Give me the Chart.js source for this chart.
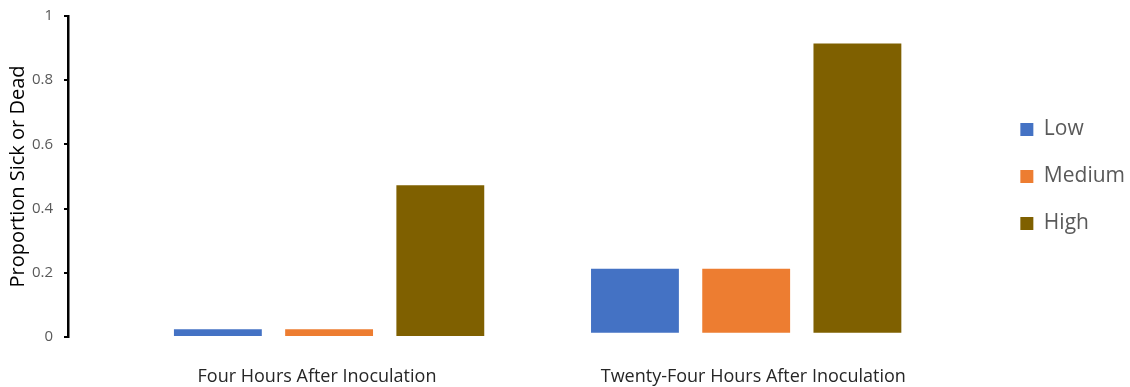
<!DOCTYPE html>
<html>
<head>
<meta charset="utf-8">
<script src="https://cdn.jsdelivr.net/npm/chart.js@4/dist/chart.umd.min.js"></script>
<style>
  html, body { margin: 0; padding: 0; background: #fff; }
  #wrap { width: 1130px; height: 387px; }
</style>
</head>
<body>
<div id="wrap"><canvas id="c" width="1130" height="387"></canvas></div>
<script>
// Groups along the x axis and the dose series
const categories = ["Four Hours After Inoculation", "Twenty-Four Hours After Inoculation"];
const categoryLabelAt = [0.971, 2.017];
const seriesNames = ["Low", "Medium", "High"];
const lowValues = [0.024, 0.213];
const mediumValues = [0.024, 0.213];
const highValues = [0.473, 0.914];
// bars of each group rise from this level
const groupBase = [0, 0.013];
const yTickLabels = ["0", "0.2", "0.4", "0.6", "0.8", "1"];
const seriesColors = ["#4472C4", "#ED7D31", "#7F6000"];

const FONT = "'Open Sans', 'DejaVu Sans', sans-serif";

function toPoints(values) {
  return values.map((v, i) => ({ x: i + 1, y: [groupBase[i], v] }));
}

const datasets = [lowValues, mediumValues, highValues].map((vals, k) => ({
  label: seriesNames[k],
  data: toPoints(vals),
  backgroundColor: seriesColors[k],
  borderWidth: 0,
  categoryPercentage: 0.8,
  barPercentage: 0.79
}));

new Chart(document.getElementById('c'), {
  type: 'bar',
  data: { datasets },
  options: {
    responsive: false,
    devicePixelRatio: 1,
    animation: false,
    layout: { padding: { top: 16, bottom: 1, left: 0, right: -5 } },
    plugins: {
      tooltip: { enabled: false },
      legend: {
        position: 'right',
        fullSize: false,
        labels: {
          boxWidth: 13,
          boxHeight: 13,
          padding: 26,
          color: '#595959',
          font: { family: FONT, size: 21 }
        }
      }
    },
    scales: {
      x: {
        type: 'linear',
        offset: false,
        min: 0.374,
        max: 2.595,
        afterBuildTicks: (s) => { s.ticks = categoryLabelAt.map((v) => ({ value: v })); },
        afterFit: (s) => { s.height = 49; },
        grid: { display: false, drawTicks: false },
        border: { display: false },
        ticks: {
          padding: 29,
          maxRotation: 0,
          color: '#262626',
          font: { family: FONT, size: 18 },
          callback: (v, i) => categories[i]
        }
      },
      y: {
        min: 0,
        max: 1,
        afterFit: (s) => { s.width = 68; s.paddingTop = 0; },
        ticks: {
          stepSize: 0.2,
          padding: 11,
          color: '#595959',
          font: { family: FONT, size: 15 },
          callback: (v, i) => yTickLabels[i]
        },
        grid: {
          drawOnChartArea: false,
          drawTicks: true,
          tickLength: 4,
          color: '#000',
          lineWidth: 2
        },
        border: { display: true, color: '#000', width: 2.5 },
        title: {
          display: true,
          text: 'Proportion Sick or Dead',
          color: '#000',
          padding: { top: 6, bottom: 0 },
          font: { family: FONT, size: 20 }
        }
      }
    }
  }
});
</script>
</body>
</html>
